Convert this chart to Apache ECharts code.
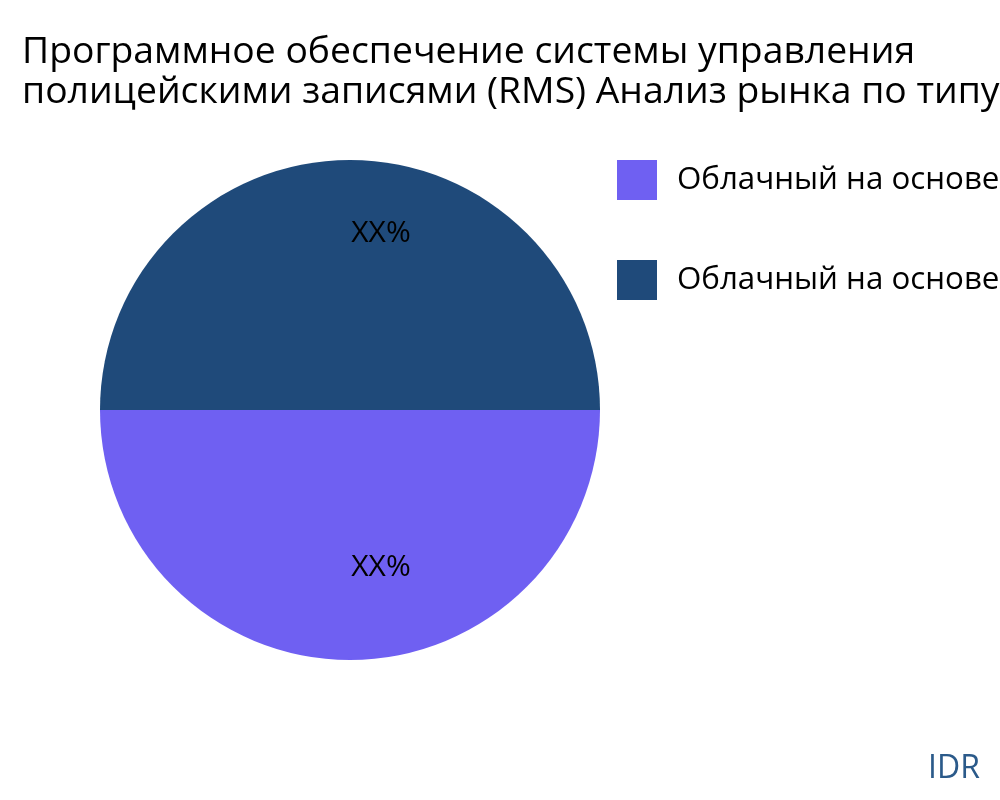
<!DOCTYPE html>
<html>
<head>
<meta charset="utf-8">
<script src="https://cdn.jsdelivr.net/npm/echarts@6/dist/echarts.min.js"></script>
<style>html,body{margin:0;padding:0;background:#fff}#c{width:1000px;height:800px}</style>
</head>
<body>
<div id="c"></div>
<script>
const titleText = 'Программное обеспечение системы управления\nполицейскими записями (RMS) Анализ рынка по типу';
const categories = ['Облачный на основе веб-технологий', 'Облачный на основе локальных серверов'];
const values = [50, 50];
const labels = ['XX%', 'XX%'];
const colors = ['#6F60F2', '#1F4A7A'];
const labelOffsets = [[31, 29], [31, -49]];

const chart = echarts.init(document.getElementById('c'), null, {renderer: 'canvas'});
const FONT = '"Open Sans", "Noto Sans", sans-serif';
chart.setOption({
  animation: false,
  backgroundColor: '#ffffff',
  title: {
    text: titleText,
    left: 17, top: 27,
    textStyle: {fontFamily: FONT, fontSize: 37.3, fontWeight: 'normal', color: '#000', lineHeight: 40}
  },
  legend: {
    orient: 'vertical',
    left: 612, top: 155,
    itemWidth: 40, itemHeight: 40, itemGap: 60,
    icon: 'rect',
    textStyle: {fontFamily: FONT, fontSize: 31.3, color: '#000', padding: [0, 0, 0, 15]},
    data: categories
  },
  graphic: [{
    type: 'text', right: 20, top: 753,
    style: {text: 'IDR', font: '32px ' + FONT, fill: '#2B5A8A'}
  }],
  series: [{
    type: 'pie',
    center: [350, 410],
    radius: 250,
    startAngle: 0,
    clockwise: true,
    avoidLabelOverlap: false,
    labelLine: {show: false},
    itemStyle: {borderWidth: 0},
    data: categories.map((c, i) => ({
      name: c, value: values[i],
      itemStyle: {color: colors[i]},
      label: {
        show: true, position: 'inside', formatter: labels[i],
        offset: labelOffsets[i],
        fontFamily: FONT, fontSize: 30, color: '#000'
      }
    }))
  }]
});
</script>
</body>
</html>
